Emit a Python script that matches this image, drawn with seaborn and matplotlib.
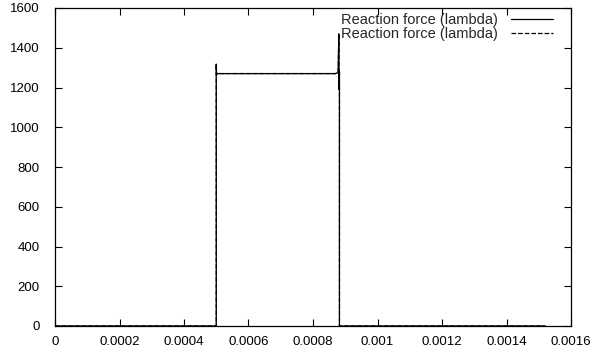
import matplotlib
matplotlib.use("Agg")
import matplotlib.pyplot as plt
import seaborn as sns
import pandas as pd

# Reaction force history (time in s, force)
time = [0.0, 0.0005, 0.0005, 0.000501, 0.000503, 0.00087, 0.000878,
        0.00088, 0.000881, 0.000882, 0.000882, 0.00152]
force = [0.0, 0.0, 1318.0, 1265.0, 1270.0, 1270.0, 1275.0,
         1470.0, 1190.0, 1280.0, 0.0, 0.0]
series_labels = ["Reaction force (lambda)", "Reaction force (lambda)"]
series_styles = ["-", "--"]

x_ticks = [0, 0.0002, 0.0004, 0.0006, 0.0008, 0.001, 0.0012, 0.0014, 0.0016]
x_tick_labels = ["0", "0.0002", "0.0004", "0.0006", "0.0008", "0.001",
                 "0.0012", "0.0014", "0.0016"]
y_ticks = [0, 200, 400, 600, 800, 1000, 1200, 1400, 1600]

sns.set_style("ticks")
plt.rcParams["font.family"] = ["Liberation Sans", "DejaVu Sans"]

fig = plt.figure(figsize=(5.93, 3.57), dpi=100)
ax = fig.add_axes([55 / 593, 31 / 357, 516 / 593, 318 / 357])

df = pd.DataFrame({"t": time, "f": force})
for lab, ls in zip(series_labels, series_styles):
    sns.lineplot(data=df, x="t", y="f", ax=ax, sort=False, estimator=None,
                 color="black", linewidth=0.9, linestyle=ls, label=lab)

ax.set_xlim(0, 0.0016)
ax.set_ylim(0, 1600)
ax.set_xticks(x_ticks)
ax.set_xticklabels(x_tick_labels)
ax.set_yticks(y_ticks)
ax.set_xlabel("")
ax.set_ylabel("")
ax.tick_params(direction="in", length=5, width=0.8, top=True, right=True,
               labelsize=9.5, colors="black")
ax.tick_params(axis="x", pad=7)
ax.tick_params(axis="y", pad=11)
for s in ax.spines.values():
    s.set_visible(True)
    s.set_linewidth(0.9)
    s.set_color("black")

ax.legend(loc="upper right", bbox_to_anchor=(553 / 593, 1 - 13 / 357),
          bbox_transform=fig.transFigure, frameon=False, markerfirst=False,
          fontsize=10.5, handlelength=2.9, labelspacing=0.02, borderpad=0,
          borderaxespad=0, handletextpad=0.9)

fig.savefig("out.png", dpi=100)
